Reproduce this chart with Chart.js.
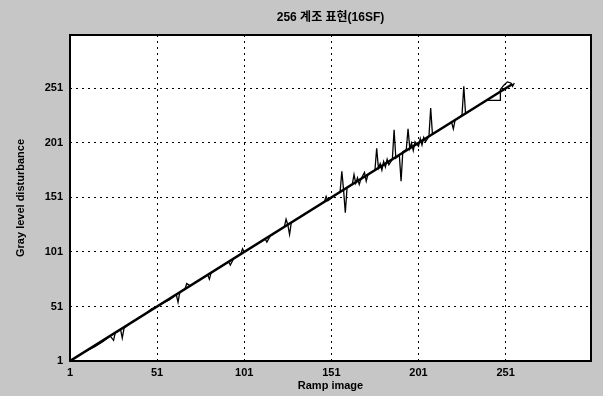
<!DOCTYPE html>
<html>
<head>
<meta charset="utf-8">
<script src="https://cdn.jsdelivr.net/npm/chart.js@4/dist/chart.umd.min.js"></script>
<style>
  html, body { margin: 0; padding: 0; background: #c6c6c6; }
  canvas { display: block; }
</style>
</head>
<body>
<canvas id="rampChart" width="603" height="396"></canvas>
<script>
const chartTitle = '256 계조 표현(16SF)'
const xTitle = 'Ramp image'
const yTitle = 'Gray level disturbance'
const xTicks = [1, 51, 101, 151, 201, 251]
const yTicks = [1, 51, 101, 151, 201, 251]

// ideal ramp
const rampX = [1, 255]
const rampY = [1, 255]

// measured output
const measX = [1, 5, 10, 15, 20, 24, 26, 27, 30, 31, 32, 36, 40, 45, 48, 50, 55, 58, 62, 63, 64, 67, 68, 70,
  75, 80, 81, 82, 88, 92, 93, 95, 99, 100, 101, 106, 110, 113, 114, 116, 120, 124, 125, 126, 127, 128,
  133, 138, 143, 147, 148, 149, 153, 156, 157, 158, 159, 160, 163, 164, 165, 166, 167, 168, 170, 171, 172, 176, 177, 178,
  179, 180, 181, 182, 183, 184, 186, 187, 188, 190, 191, 192, 194, 195, 196, 197, 198, 199, 201, 202, 203, 204, 205, 207, 208, 209, 212, 215,
  218, 220, 221, 222, 225, 226, 227, 228, 232, 236, 240, 242, 248, 248, 250, 252, 254, 255, 256]
const measY = [1, 5, 10, 14, 19, 24, 20, 27, 30, 22, 31, 36, 40, 45, 49, 50, 55, 57, 62, 55, 64, 67, 72, 70,
  75, 80, 76, 82, 88, 92, 89, 95, 99, 104, 101, 106, 110, 113, 110, 116, 120, 124, 131, 126, 117, 128,
  133, 138, 143, 147, 152, 148, 153, 156, 175, 158, 137, 160, 163, 172, 164, 169, 163, 168, 174, 166, 172, 176, 196, 178,
  182, 176, 184, 179, 186, 181, 186, 213, 187, 190, 166, 193, 195, 214, 196, 201, 194, 202, 198, 205, 199, 206, 202, 207, 233, 209, 212, 215,
  218, 220, 214, 222, 225, 227, 253, 228, 232, 236, 240, 240, 240, 250, 254, 257, 256, 253, 256]

const FONT = "'Liberation Sans', Arial, 'Noto Sans CJK KR', sans-serif"

const framePlugin = {
  id: 'frame',
  beforeDraw(chart) {
    const { ctx, chartArea: a } = chart
    ctx.save()
    ctx.fillStyle = '#c6c6c6'
    ctx.fillRect(0, 0, chart.width, chart.height)
    ctx.fillStyle = '#ffffff'
    ctx.fillRect(a.left, a.top, a.right - a.left, a.bottom - a.top)
    ctx.restore()
  },
  afterDraw(chart) {
    const { ctx, chartArea: a } = chart
    ctx.save()
    ctx.strokeStyle = '#000'
    ctx.lineWidth = 2
    ctx.strokeRect(a.left, a.top, a.right - a.left, a.bottom - a.top)
    // title over the plot box
    ctx.fillStyle = '#000'
    ctx.font = 'bold 12px ' + FONT
    ctx.textAlign = 'center'
    ctx.textBaseline = 'middle'
    ctx.fillText(chartTitle, (a.left + a.right) / 2, 18)
    ctx.restore()
  }
}

const fixedTicks = list => scale => {
  scale.ticks = list.map(v => ({ value: v }))
}

new Chart(document.getElementById('rampChart'), {
  type: 'scatter',
  data: {
    datasets: [
      {
        label: 'ramp',
        data: rampX.map((x, i) => ({ x, y: rampY[i] })),
        showLine: true,
        borderColor: '#000',
        borderWidth: 2.5,
        pointRadius: 0
      },
      {
        label: 'measured',
        data: measX.map((x, i) => ({ x, y: measY[i] })),
        showLine: true,
        borderColor: '#000',
        borderWidth: 1.3,
        pointRadius: 0
      }
    ]
  },
  options: {
    responsive: false,
    animation: false,
    layout: { padding: { top: 35, right: 12, left: 0, bottom: 0 } },
    plugins: {
      legend: { display: false },
      tooltip: { enabled: false }
    },
    scales: {
      x: {
        type: 'linear',
        min: 1,
        max: 300,
        afterBuildTicks: fixedTicks(xTicks),
        afterFit(scale) { scale.height = 35 },
        grid: { color: '#000', lineWidth: 1, drawTicks: false },
        border: { display: false, dash: [2, 4] },
        ticks: { color: '#000', padding: 5, font: { family: FONT, size: 11, weight: 'bold' }, maxRotation: 0 },
        title: { display: true, text: xTitle, color: '#000', padding: { top: 0, bottom: 3 }, font: { family: FONT, size: 11, weight: 'bold' } }
      },
      y: {
        type: 'linear',
        min: 1,
        max: 300,
        afterBuildTicks: fixedTicks(yTicks),
        afterFit(scale) { scale.width = 70 },
        grid: { color: '#000', lineWidth: 1, drawTicks: false },
        border: { display: false, dash: [2, 4] },
        ticks: { color: '#000', padding: 7, font: { family: FONT, size: 11, weight: 'bold' } },
        title: { display: true, text: yTitle, color: '#000', padding: { top: 14, bottom: 0 }, font: { family: FONT, size: 11, weight: 'bold' } }
      }
    }
  },
  plugins: [framePlugin]
})
</script>
</body>
</html>
